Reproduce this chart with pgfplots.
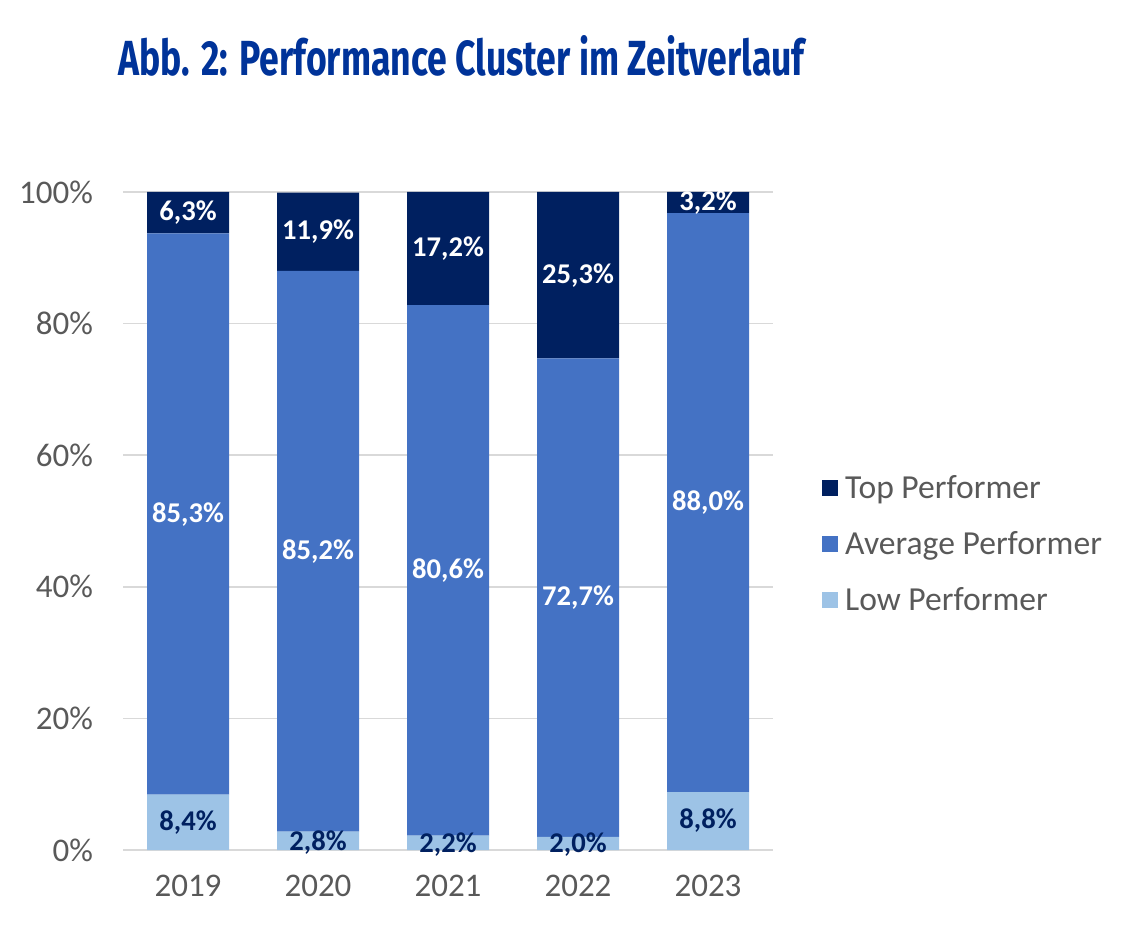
\documentclass[border=0pt]{standalone}
\usepackage{fontspec}
\setmainfont{Carlito}
\newfontfamily\titlefont{Fira Sans}
\usepackage{graphicx}
\usepackage{pgfplots}
\pgfplotsset{compat=1.18}
\definecolor{topc}{HTML}{002060}
\definecolor{avgc}{HTML}{4472C4}
\definecolor{lowc}{HTML}{9DC3E6}
\definecolor{titlec}{HTML}{003399}
\definecolor{tickc}{HTML}{595959}
\definecolor{gridc}{HTML}{D9D9D9}
\begin{document}
\begin{tikzpicture}
\useasboundingbox (0,0) rectangle (563.5pt,-464.5pt);
\node[anchor=base west, inner sep=0pt, text=titlec] at (59pt,-38pt)
  {\resizebox{343pt}{20pt}{\titlefont\bfseries Abb. 2: Performance Cluster im Zeitverlauf}};
\begin{axis}[
  at={(61.5pt,-425pt)}, anchor=south west,
  scale only axis, width=325pt, height=329pt,
  ybar stacked, bar width=41pt,
  xmin=-0.5, xmax=4.5, ymin=0, ymax=100,
  xtick={0,1,2,3,4}, xticklabels={2019,2020,2021,2022,2023},
  ytick={0,20,40,60,80,100},
  yticklabel={\pgfmathprintnumber{\tick}\%},
  /pgf/number format/assume math mode=true,
  axis line style={draw=none}, major tick length=0pt,
  ymajorgrids, grid style={gridc, line width=0.8pt},
  ticklabel style={font=\fontsize{16.5}{18}\selectfont, text=tickc},
  yticklabel style={xshift=-11.5pt},
  xticklabel style={yshift=-9pt},
  reverse legend,
  legend image code/.code={\fill[#1] (0pt,-4pt) rectangle (8pt,4pt);},
  legend style={at={(1.075,0.465)}, anchor=west, draw=none, fill=none,
    font=\fontsize{16.8}{18}\selectfont, text=tickc, row sep=11pt,
    inner sep=0pt, /tikz/every odd column/.style={column sep=1.5pt}},
  legend cell align=left,
]
\addplot[fill=lowc, draw=none] coordinates {(0,8.4) (1,2.8) (2,2.2) (3,2.0) (4,8.8)};
\addlegendentry{Low Performer}
\addplot[fill=avgc, draw=none] coordinates {(0,85.3) (1,85.2) (2,80.6) (3,72.7) (4,88.0)};
\addlegendentry{Average Performer}
\addplot[fill=topc, draw=none] coordinates {(0,6.3) (1,11.9) (2,17.2) (3,25.3) (4,3.2)};
\addlegendentry{Top Performer}
\end{axis}
\begin{axis}[
  at={(61.5pt,-425pt)}, anchor=south west,
  scale only axis, width=325pt, height=329pt,
  xmin=-0.5, xmax=4.5, ymin=0, ymax=100, hide axis,
  nodes near coords, point meta=explicit symbolic,
  every node near coord/.append style={anchor=center, inner sep=0pt,
    font=\bfseries\fontsize{14.3}{16}\selectfont},
]
\addplot[only marks, mark=none, every node near coord/.append style={text=white}] table[meta=lab] {
x y lab
0 96.85 6,3\%
1 93.95 11,9\%
2 91.4 17,2\%
3 87.35 25,3\%
4 98.4 3,2\%
};
\addplot[only marks, mark=none, every node near coord/.append style={text=white}] table[meta=lab] {
x y lab
0 51.05 85,3\%
1 45.4 85,2\%
2 42.5 80,6\%
3 38.35 72,7\%
4 52.8 88,0\%
};
\addplot[only marks, mark=none, every node near coord/.append style={text=topc}] table[meta=lab] {
x y lab
0 4.2 8,4\%
1 1.2 2,8\%
2 0.9 2,2\%
3 0.8 2,0\%
4 4.4 8,8\%
};
\end{axis}
\end{tikzpicture}
\end{document}
